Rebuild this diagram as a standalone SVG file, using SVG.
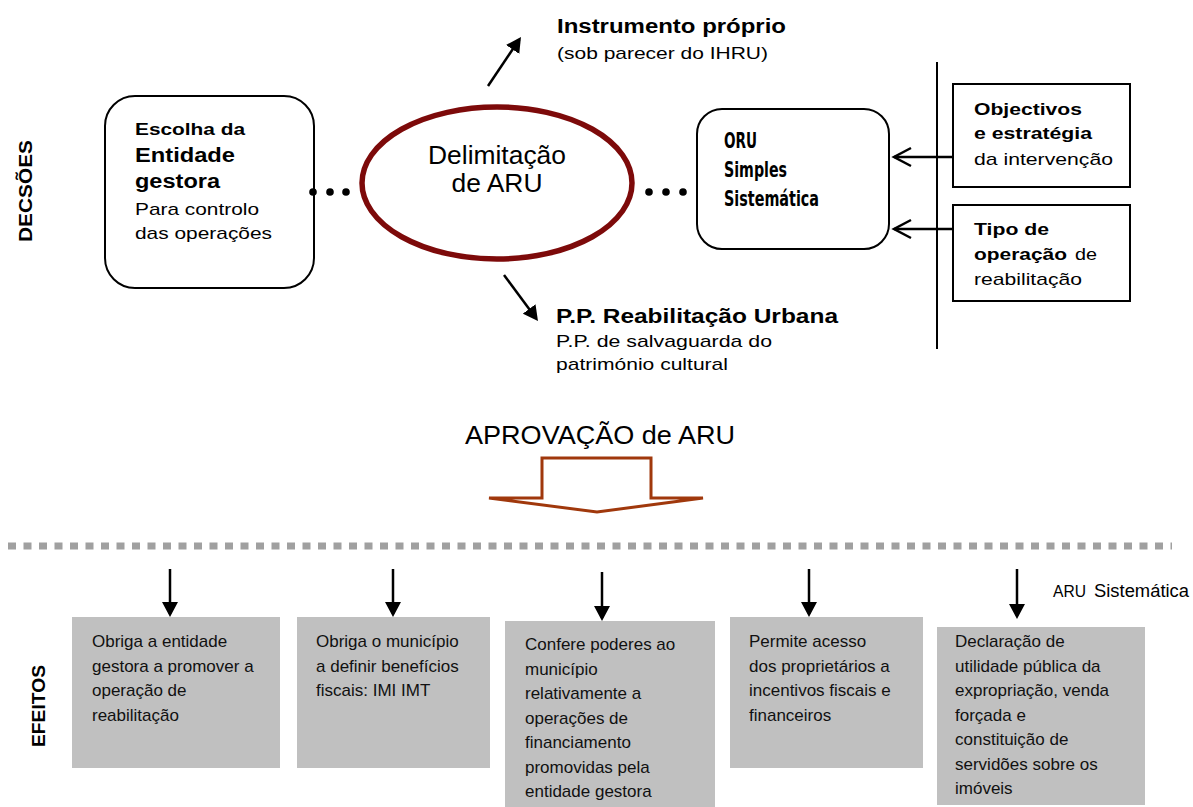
<svg xmlns="http://www.w3.org/2000/svg" width="1193" height="807" viewBox="0 0 1193 807">
  <style>
    text { font-family: "Liberation Sans", Arial, sans-serif; fill: #000; }
    .b { font-weight: bold; }
    .oru { font-family: "DejaVu Sans Condensed", "DejaVu Sans", sans-serif; font-weight: bold; font-stretch: condensed; font-size: 22px; }
    .box { fill: #fff; stroke: #000; stroke-width: 2; }
    .eff { fill: #c0c0c0; }
    .eff-text { font-size: 17px; fill: #111; }
    .ln { stroke: #000; stroke-width: 2.5; fill: none; }
  </style>
  <defs>
    <marker id="tri" viewBox="0 0 15 16" refX="12" refY="8" markerWidth="15" markerHeight="16" markerUnits="userSpaceOnUse" orient="auto">
      <path d="M0,0 L15,8 L0,16 z" fill="#000"/>
    </marker>
  </defs>

  <rect width="1193" height="807" fill="#fff"/>

  <!-- side labels -->
  <text class="b" font-size="18" transform="translate(32 242) rotate(-90)" textLength="102" lengthAdjust="spacingAndGlyphs">DECSÕES</text>
  <text class="b" font-size="18" transform="translate(45 747) rotate(-90)" textLength="82" lengthAdjust="spacingAndGlyphs">EFEITOS</text>

  <!-- decision nodes -->
  <g id="entidade">
    <rect class="box" x="105" y="96" width="209" height="192" rx="30"/>
    <text class="b" x="135" y="135" font-size="17" textLength="110" lengthAdjust="spacingAndGlyphs">Escolha da</text>
    <text class="b" x="135" y="162" font-size="20" textLength="100" lengthAdjust="spacingAndGlyphs">Entidade</text>
    <text class="b" x="135" y="188" font-size="20" textLength="85" lengthAdjust="spacingAndGlyphs">gestora</text>
    <text x="135" y="215" font-size="17" textLength="124" lengthAdjust="spacingAndGlyphs">Para controlo</text>
    <text x="135" y="239" font-size="17" textLength="137" lengthAdjust="spacingAndGlyphs">das operações</text>
  </g>

  <g id="delimitacao">
    <ellipse cx="497" cy="183" rx="135" ry="76" fill="#fff" stroke="#7d0a0a" stroke-width="5.5"/>
    <text x="497" y="164" font-size="26.4" text-anchor="middle">Delimitação</text>
    <text x="497" y="192" font-size="26.4" text-anchor="middle">de ARU</text>
  </g>

  <g id="oru">
    <rect class="box" x="697" y="109" width="192" height="140" rx="25"/>
    <text class="oru" x="724" y="148" textLength="33" lengthAdjust="spacingAndGlyphs">ORU</text>
    <text class="oru" x="724" y="177" textLength="63" lengthAdjust="spacingAndGlyphs">Simples</text>
    <text class="oru" x="724" y="206" textLength="95" lengthAdjust="spacingAndGlyphs">Sistemática</text>
  </g>

  <g id="objectivos">
    <rect class="box" x="953" y="84" width="177" height="103"/>
    <text class="b" x="974" y="115" font-size="17" textLength="108" lengthAdjust="spacingAndGlyphs">Objectivos</text>
    <text class="b" x="974" y="139" font-size="17" textLength="118" lengthAdjust="spacingAndGlyphs">e estratégia</text>
    <text x="974" y="165" font-size="17" textLength="139" lengthAdjust="spacingAndGlyphs">da intervenção</text>
  </g>

  <g id="tipo-operacao">
    <rect class="box" x="953" y="205" width="177" height="96"/>
    <text class="b" x="974" y="235" font-size="17" textLength="75" lengthAdjust="spacingAndGlyphs">Tipo de</text>
    <text class="b" x="974" y="260" font-size="17" textLength="93" lengthAdjust="spacingAndGlyphs">operação</text>
    <text x="1075" y="260" font-size="17" textLength="22" lengthAdjust="spacingAndGlyphs">de</text>
    <text x="974" y="285" font-size="17" textLength="108" lengthAdjust="spacingAndGlyphs">reabilitação</text>
  </g>

  <g id="instrumento">
    <text class="b" x="557" y="33" font-size="20" textLength="229" lengthAdjust="spacingAndGlyphs">Instrumento próprio</text>
    <text x="557" y="59" font-size="17" textLength="211" lengthAdjust="spacingAndGlyphs">(sob parecer do IHRU)</text>
  </g>

  <g id="pp-reabilitacao">
    <text class="b" x="556" y="323" font-size="20" textLength="282" lengthAdjust="spacingAndGlyphs">P.P. Reabilitação Urbana</text>
    <text x="556" y="347" font-size="17" textLength="216" lengthAdjust="spacingAndGlyphs">P.P. de salvaguarda do</text>
    <text x="556" y="370" font-size="17" textLength="172" lengthAdjust="spacingAndGlyphs">património cultural</text>
  </g>

  <g id="aprovacao">
    <text x="465" y="444" font-size="26" textLength="270" lengthAdjust="spacingAndGlyphs">APROVAÇÃO de ARU</text>
  </g>

  <!-- effect nodes -->
  <g id="efeito-1">
    <rect class="eff" x="72" y="617" width="208" height="151"/>
    <text class="eff-text">
      <tspan x="92" y="647">Obriga a entidade</tspan>
      <tspan x="92" y="671.5">gestora a promover a</tspan>
      <tspan x="92" y="696">operação de</tspan>
      <tspan x="92" y="720.5">reabilitação</tspan>
    </text>
  </g>
  <g id="efeito-2">
    <rect class="eff" x="297" y="617" width="193" height="151"/>
    <text class="eff-text">
      <tspan x="316" y="647">Obriga o município</tspan>
      <tspan x="316" y="671.5">a definir benefícios</tspan>
      <tspan x="316" y="696">fiscais: IMI IMT</tspan>
    </text>
  </g>
  <g id="efeito-3">
    <rect class="eff" x="505" y="621" width="210" height="186"/>
    <text class="eff-text">
      <tspan x="525" y="650">Confere poderes ao</tspan>
      <tspan x="525" y="674.5">município</tspan>
      <tspan x="525" y="699">relativamente a</tspan>
      <tspan x="525" y="723.5">operações de</tspan>
      <tspan x="525" y="748">financiamento</tspan>
      <tspan x="525" y="772.5">promovidas pela</tspan>
      <tspan x="525" y="797">entidade gestora</tspan>
    </text>
  </g>
  <g id="efeito-4">
    <rect class="eff" x="730" y="617" width="193" height="151"/>
    <text class="eff-text">
      <tspan x="749" y="647">Permite acesso</tspan>
      <tspan x="749" y="671.5">dos proprietários a</tspan>
      <tspan x="749" y="696">incentivos fiscais e</tspan>
      <tspan x="749" y="720.5">financeiros</tspan>
    </text>
  </g>
  <g id="efeito-5">
    <rect class="eff" x="937" y="627" width="208" height="178"/>
    <text class="eff-text">
      <tspan x="955" y="647">Declaração de</tspan>
      <tspan x="955" y="671.5">utilidade pública da</tspan>
      <tspan x="955" y="696">expropriação, venda</tspan>
      <tspan x="955" y="720.5">forçada e</tspan>
      <tspan x="955" y="745">constituição de</tspan>
      <tspan x="955" y="769.5">servidões sobre os</tspan>
      <tspan x="955" y="794">imóveis</tspan>
    </text>
  </g>
  <g id="aru-sistematica">
    <text x="1053" y="597" font-size="17" fill="#111" textLength="33" lengthAdjust="spacingAndGlyphs">ARU</text>
    <text x="1094" y="597" font-size="17.5" fill="#111" textLength="95" lengthAdjust="spacingAndGlyphs">Sistemática</text>
  </g>

  <!-- connectors -->
  <g id="connectors">
    <!-- dotted links between the decision nodes -->
    <g fill="#000">
      <circle cx="313" cy="192" r="3.8"/>
      <circle cx="330" cy="192" r="3.8"/>
      <circle cx="346" cy="192" r="3.8"/>
      <circle cx="649" cy="192" r="3.8"/>
      <circle cx="666" cy="192" r="3.8"/>
      <circle cx="683" cy="192" r="3.8"/>
    </g>
    <!-- outcomes of the delimitation -->
    <line class="ln" x1="488" y1="86" x2="519.3" y2="39.5" marker-end="url(#tri)"/>
    <line class="ln" x1="504" y1="275" x2="536.2" y2="318.6" marker-end="url(#tri)"/>
    <!-- inputs into ORU -->
    <line x1="937" y1="62" x2="937" y2="349" stroke="#000" stroke-width="2"/>
    <line class="ln" x1="953" y1="157" x2="894" y2="157"/>
    <polyline class="ln" points="911,148 894,157 911,166"/>
    <line class="ln" x1="953" y1="229" x2="894" y2="229"/>
    <polyline class="ln" points="911,220 894,229 911,238"/>
    <!-- approval block arrow -->
    <path d="M489,498 H542 V458 H651 V498 H703 L597,512 Z" fill="#fff" stroke="#a0380c" stroke-width="3" stroke-linejoin="miter"/>
    <!-- separator -->
    <line x1="8" y1="546" x2="1172" y2="546" stroke="#a0a0a0" stroke-width="7" stroke-dasharray="8 7.5"/>
    <!-- effect arrows -->
    <line class="ln" x1="170" y1="569" x2="170" y2="614" marker-end="url(#tri)"/>
    <line class="ln" x1="393" y1="569" x2="393" y2="614" marker-end="url(#tri)"/>
    <line class="ln" x1="602" y1="572" x2="602" y2="618" marker-end="url(#tri)"/>
    <line class="ln" x1="809" y1="569" x2="809" y2="614" marker-end="url(#tri)"/>
    <line class="ln" x1="1017" y1="569" x2="1017" y2="616" marker-end="url(#tri)"/>
  </g>
</svg>
